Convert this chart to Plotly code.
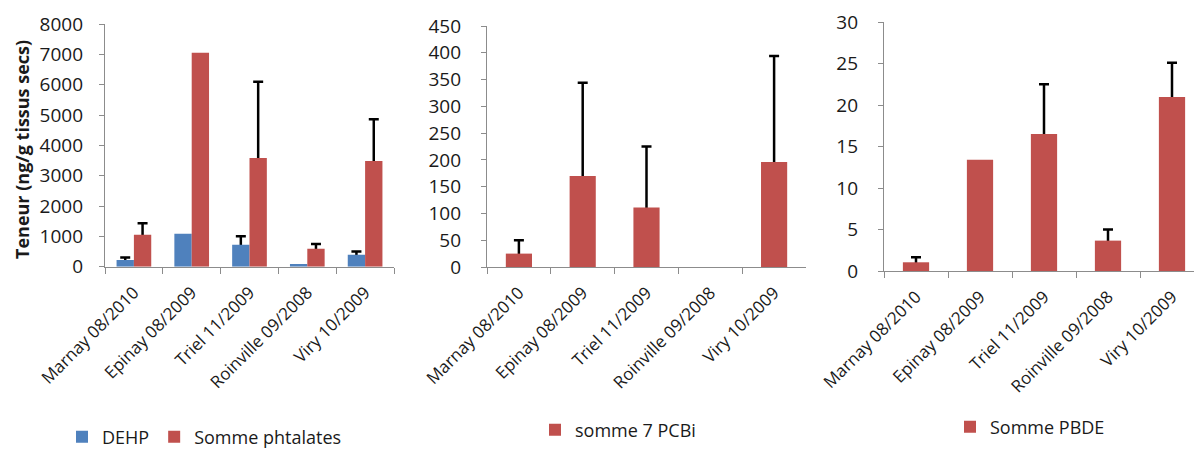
import plotly.graph_objects as go

categories = ["Marnay 08/2010", "Epinay 08/2009", "Triel 11/2009", "Roinville 09/2008", "Viry 10/2009"]

dehp = [223, 1090, 723, 90, 390]
dehp_err = [77, None, 277, None, 110]
phtalates = [1057, 7050, 3582, 590, 3484]
phtalates_err = [376, None, 2517, 155, 1373]

pcbi = [25, 170, 111, 0, 196]
pcbi_err = [25, 174, 114, None, 198]

pbde = [1.05, 13.4, 16.5, 3.66, 20.95]
pbde_err = [0.6, None, 6.0, 1.34, 4.15]

BLUE = "#4F81BD"
RED = "#C0504D"
FONT = "Open Sans"
W, H = 1194, 450


def px(x):
    return x / W


def py(y):
    return 1 - y / H


fig = go.Figure()


def add_series(values, errors, name, color, width, offset, xa, ya, leg):
    # error bars first (drawn under the opaque bar, so only the upper part shows)
    idx = [i for i, e in enumerate(errors) if e is not None]
    fig.add_trace(go.Bar(x=[categories[i] for i in idx], y=[values[i] for i in idx],
                         width=width, offset=offset, marker_color="rgba(0,0,0,0)",
                         marker_line_width=0, showlegend=False, hoverinfo="skip",
                         xaxis=xa, yaxis=ya,
                         error_y=dict(type="data", array=[errors[i] for i in idx],
                                      arrayminus=[values[i] * 0.5 for i in idx], symmetric=False,
                                      color="black", thickness=2.5, width=5)))
    fig.add_trace(go.Bar(x=categories, y=values, name=name, marker_color=color, width=width,
                         offset=offset, xaxis=xa, yaxis=ya, legend=leg, marker_line_width=0))


add_series(dehp, dehp_err, "DEHP", BLUE, 0.3, -0.3, "x", "y", "legend")
add_series(phtalates, phtalates_err, "Somme phtalates", RED, 0.3, 0.0, "x", "y", "legend")
add_series(pcbi, pcbi_err, "somme 7 PCBi", RED, 0.41, -0.205, "x2", "y2", "legend2")
add_series(pbde, pbde_err, "Somme PBDE", RED, 0.41, -0.205, "x3", "y3", "legend3")

ytickfont = dict(family=FONT, size=19, color="#1a1a1a")
xtickfont = dict(family=FONT, size=17, color="#1a1a1a")
axcol = "#8c8c8c"


def xaxis(domain, anchor, rng):
    return dict(domain=domain, anchor=anchor, type="category", categoryorder="array",
                categoryarray=categories, range=rng, tickson="boundaries", ticks="outside",
                ticklen=6, tickcolor=axcol, tickwidth=1.3, showline=True, linecolor=axcol,
                linewidth=1.3, showgrid=False, zeroline=False, tickangle=-45, tickfont=xtickfont,
                ticklabelstandoff=8, fixedrange=True, automargin=False)


def yaxis(domain, anchor, rng, dtick, standoff):
    return dict(domain=domain, anchor=anchor, range=rng, dtick=dtick, showgrid=False,
                zeroline=False, showline=True, linecolor=axcol, linewidth=1.3, ticks="outside",
                ticklen=5, tickcolor=axcol, tickwidth=1.3, tickfont=ytickfont,
                ticklabelstandoff=standoff, fixedrange=True, automargin=False)


legfont = dict(family=FONT, size=18, color="#1a1a1a")

fig.update_layout(
    width=W, height=H, margin=dict(l=0, r=0, t=0, b=0, autoexpand=False),
    paper_bgcolor="white", plot_bgcolor="white",
    barmode="overlay",
    font=dict(family=FONT, size=18, color="#1a1a1a"),
    xaxis=xaxis([px(105), px(394)], "y", [-0.5, 4.5]),
    yaxis=yaxis([py(266.7), py(24)], "x", [0, 8000], 1000, 12),
    xaxis2=xaxis([px(487), px(806)], "y2", [-0.5, 4.5]),
    yaxis2=yaxis([py(267), py(26)], "x2", [0, 450], 50, 16),
    xaxis3=xaxis([px(884), 1.0], "y3", [-0.5, -0.5 + (W - 884) / 64.0]),
    yaxis3=yaxis([py(271), py(22)], "x3", [0, 30], 5, 16),
    legend=dict(orientation="h", x=px(62), y=py(437), xanchor="left", yanchor="middle",
                font=legfont, bgcolor="rgba(0,0,0,0)", itemwidth=30),
    legend2=dict(orientation="h", x=px(535), y=py(430), xanchor="left", yanchor="middle",
                 font=legfont, bgcolor="rgba(0,0,0,0)", itemwidth=30),
    legend3=dict(orientation="h", x=px(950), y=py(427), xanchor="left", yanchor="middle",
                 font=legfont, bgcolor="rgba(0,0,0,0)", itemwidth=30),
    annotations=[dict(text="<b>Teneur (ng/g tissus secs)</b>", textangle=-90, x=px(22), y=py(150),
                      xref="paper", yref="paper", xanchor="center", yanchor="middle", showarrow=False,
                      font=dict(family=FONT, size=18, color="#1a1a1a"))],
)

fig.write_html("out.html")
